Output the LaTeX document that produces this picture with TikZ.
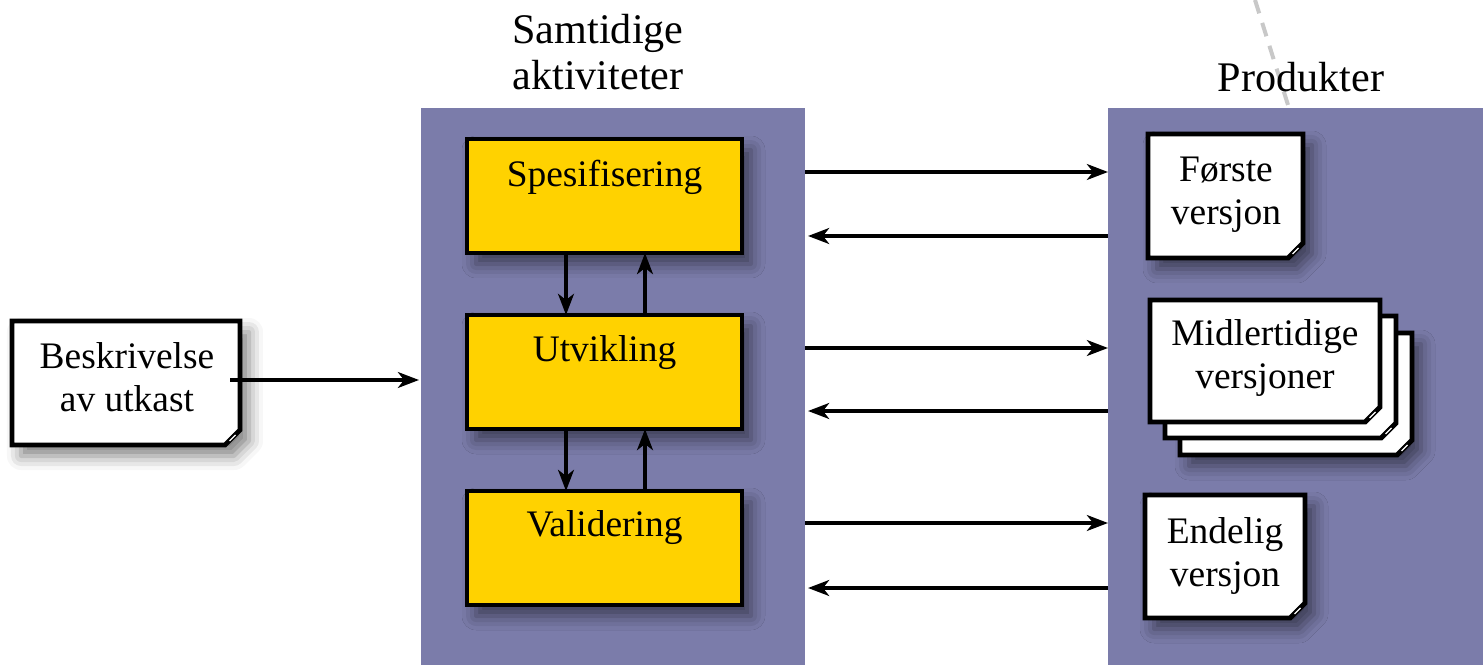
\documentclass[tikz,border=0pt]{standalone}
\usepackage{fontspec}
\setmainfont{Liberation Serif}
\newfontfamily\labelfont{Liberation Serif}
\usetikzlibrary{arrows.meta,shadows.blur,fit,calc}
\definecolor{panel}{RGB}{123,124,170}
\definecolor{boxyellow}{RGB}{255,210,0}
\definecolor{dashgray}{RGB}{200,200,200}

\tikzset{
  lbl/.style={font=\labelfont\fontsize{21.3}{24.5}\selectfont, align=center, inner sep=0pt},
  heading/.style={lbl, font=\labelfont\fontsize{24}{26}\selectfont},
  area/.style={inner sep=0pt, outer sep=0pt},
  panelbox/.style={area, fill=panel},
  softshadow/.style={blur shadow={shadow xshift=0.18cm, shadow yshift=-0.22cm,
      shadow blur radius=0.28cm, shadow opacity=50}},
  activity/.style={area, draw=black, line width=2.8pt, fill=boxyellow, softshadow},
  docline/.style={draw=black, line width=2.8pt, fill=white, line join=miter},
  arr/.style={draw=black, line width=2.1pt,
      -{Stealth[length=12pt, width=9pt, inset=3.5pt]}},
}

% outline of a page with a cut lower right corner
\newcommand\pageoutline[1]{(#1.north west) -- (#1.north east)
     -- ([yshift=0.3cm]#1.south east) -- ([xshift=-0.3cm]#1.south east)
     -- (#1.south west) -- cycle}

% page with a curled lower right corner, drawn over the area of a node
\newcommand\paperpage[2][]{%
  \path[docline, #1] \pageoutline{#2};
  \fill[black] ([yshift=0.3cm]#2.south east) -- ([xshift=-0.3cm]#2.south east)
     .. controls ([shift={(-0.26cm,0.1cm)}]#2.south east)
     and ([shift={(-0.12cm,0.28cm)}]#2.south east) .. cycle;
  \draw[white, line width=0.7pt] ([shift={(-0.21cm,0.08cm)}]#2.south east)
     -- ([shift={(-0.09cm,0.2cm)}]#2.south east);
}

\begin{document}
\begin{tikzpicture}[x=0.02cm, y=-0.02cm]
\useasboundingbox (0,0) rectangle (1483,665);

% faint dashed stroke above the products column
\coordinate (dashA) at (1255,0);
\coordinate (dashB) at (1288,105);
\draw[dashgray, line width=0.08cm, dash pattern=on 0.28cm off 0.2cm] (dashA) -- (dashB);

% column backgrounds
\node[panelbox, fit={(421,108) (805,665)}] (lp) {};
\node[panelbox, fit={(1108,108) (1483,665)}] (rp) {};

% column headings
\node[heading] (headAct) at (598,52) {Samtidige\\aktiviteter};
\node[heading] (headProd) at (1301,77) {Produkter};

% activities
\node[activity, fit={(467,139) (742,253)}] (spes) {};
\node[activity, fit={(467,315) (742,429)}] (utv) {};
\node[activity, fit={(467,491) (742,605)}] (val) {};
\node[lbl] (spesT) at (604.5,177) {Spesifisering};
\node[lbl] (utvT) at (604.5,353) {Utvikling};
\node[lbl] (valT) at (604.5,528) {Validering};

% pages
\node[area, fit={(12,321) (240,445)}] (besk) {};
\node[area, fit={(1148,134) (1303,258)}] (first) {};
\node[area, fit={(1180,333) (1412,455)}] (mid3) {};
\node[area, fit={(1165,316) (1396,438)}] (mid2) {};
\node[area, fit={(1150,300) (1380,422)}] (mid1) {};
\node[area, fit={(1145,495) (1305,618)}] (final) {};

\paperpage[softshadow]{besk}
\paperpage[softshadow]{first}
\paperpage[softshadow]{mid3}
\paperpage{mid2}
\paperpage{mid1}
\paperpage[softshadow]{final}

\node[lbl] (beskT) at (127,377) {Beskrivelse\\av utkast};
\node[lbl] (firstT) at (1226,195) {Første\\versjon};
\node[lbl] (midT) at (1265,358) {Midlertidige\\versjoner};
\node[lbl] (finalT) at (1225,556) {Endelig\\versjon};

% input to the activities
\draw[arr] ([xshift=-0.2cm]besk.east |- 0,380) -- ([xshift=-0.04cm]lp.west |- 0,380);

% between activities
\draw[arr] (spes.south -| 566,0) -- (utv.north -| 566,0);
\draw[arr] (utv.north -| 645,0) -- (spes.south -| 645,0);
\draw[arr] (utv.south -| 566,0) -- (val.north -| 566,0);
\draw[arr] (val.north -| 645,0) -- (utv.south -| 645,0);

% activities and products
\draw[arr] (lp.east |- 0,172) -- (rp.west |- 0,172);
\draw[arr] (rp.west |- 0,236) -- ([xshift=0.06cm]lp.east |- 0,236);
\draw[arr] (lp.east |- 0,348) -- (rp.west |- 0,348);
\draw[arr] (rp.west |- 0,411) -- ([xshift=0.06cm]lp.east |- 0,411);
\draw[arr] (lp.east |- 0,523) -- (rp.west |- 0,523);
\draw[arr] (rp.west |- 0,588) -- ([xshift=0.06cm]lp.east |- 0,588);
\end{tikzpicture}
\end{document}
